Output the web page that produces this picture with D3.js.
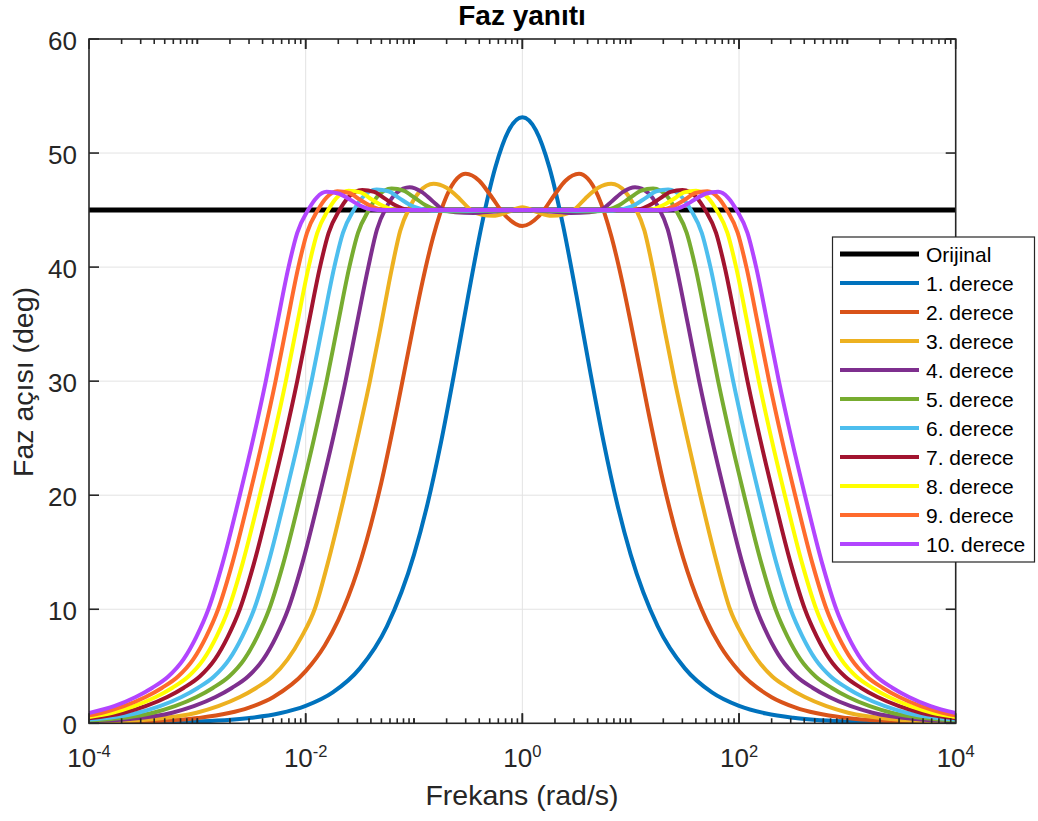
<!DOCTYPE html>
<html><head><meta charset="utf-8">
<script src="https://cdn.jsdelivr.net/npm/d3@7"></script>
<style>
body{margin:0;background:#fff}
svg{display:block}
text{font-family:"Liberation Sans",Arial,Helvetica,sans-serif;fill:#262626}
</style>
</head><body>
<svg id="chart" width="1038" height="821"></svg>
<script>
// ---------------- data (log10 of frequency in rad/s, phase in degrees) ----------------
const seriesNames = ["Orijinal","1. derece","2. derece","3. derece","4. derece","5. derece","6. derece","7. derece","8. derece","9. derece","10. derece"];

const logW0 = [-4, 4];
const phase0 = [45, 45];

const logW1 = [-4,-3.5,-3,-2.5,-2.25,-2,-1.75,-1.5,-1.25,-1,-0.875,-0.75,-0.625,-0.5,-0.375,-0.25,-0.125,0,0.125,0.25,0.375,0.5,0.625,0.75,0.875,1,1.25,1.5,1.75,2,2.25,2.5,3,3.5,4];
const phase1 = [0.015,0.048,0.153,0.483,0.859,1.527,2.71,4.815,8.5,14.79,19.25,24.68,30.9,37.47,43.68,48.72,52.0,53.13,52.0,48.72,43.68,37.47,30.9,24.68,19.25,14.79,8.5,4.815,2.71,1.527,0.859,0.483,0.153,0.048,0.015];

const logW2 = [-4,-3.5,-3,-2.523,-2.301,-2,-1.824,-1.699,-1.523,-1.301,-1.155,-1,-0.921,-0.824,-0.699,-0.602,-0.523,-0.398,-0.301,-0.155,0,0.155,0.301,0.398,0.523,0.602,0.699,0.824,0.921,1,1.155,1.301,1.523,1.699,1.824,2,2.301,2.523,3,3.5,4];
const phase2 = [0.046,0.145,0.458,1.374,2.29,4.57,6.82,9.04,13.34,21.14,27.68,35.14,38.75,42.62,46.24,47.77,48.18,47.57,46.39,44.49,43.6,44.49,46.39,47.57,48.18,47.77,46.24,42.62,38.75,35.14,27.68,21.14,13.34,9.04,6.82,4.57,2.29,1.374,0.458,0.145,0.046];

const logW3 = [-4,-3.407,-3.007,-2.807,-2.607,-2.457,-2.307,-2.167,-2.037,-1.917,-1.797,-1.642,-1.522,-1.407,-1.303,-1.202,-1.127,-1.037,-0.95,-0.82,-0.7,-0.58,-0.48,-0.38,-0.27,-0.13,0,0.13,0.27,0.38,0.48,0.58,0.7,0.82,0.95,1.037,1.127,1.202,1.303,1.407,1.522,1.642,1.797,1.917,2.037,2.167,2.307,2.457,2.607,2.807,3.007,3.407,4];
const phase3 = [0.09,0.37,0.93,1.5,2.3,3.1,4.1,5.6,7.6,10,14,20,25,30,35,40,43.2,45.3,46.6,47.3,46.95,46.0,45.05,44.6,44.5,44.85,45.25,44.85,44.5,44.6,45.05,46.0,46.95,47.3,46.6,45.3,43.2,40,35,30,25,20,14,10,7.6,5.6,4.1,3.1,2.3,1.5,0.93,0.37,0.09];

const logW4 = [-4,-3.632,-3.232,-3.032,-2.832,-2.682,-2.532,-2.392,-2.272,-2.162,-2.032,-1.872,-1.747,-1.632,-1.528,-1.422,-1.342,-1.252,-1.162,-1.04,-0.93,-0.83,-0.74,-0.62,-0.45,-0.25,0,0.25,0.45,0.62,0.74,0.83,0.93,1.04,1.162,1.252,1.342,1.422,1.528,1.632,1.747,1.872,2.032,2.162,2.272,2.392,2.532,2.682,2.832,3.032,3.232,3.632,4];
const phase4 = [0.16,0.37,0.93,1.5,2.3,3.1,4.1,5.6,7.6,10,14,20,25,30,35,40,43.3,45.3,46.5,47.0,46.6,45.8,45.1,44.8,44.75,44.88,45.0,44.88,44.75,44.8,45.1,45.8,46.6,47.0,46.5,45.3,43.3,40,35,30,25,20,14,10,7.6,5.6,4.1,3.1,2.3,1.5,0.93,0.37,0.16];

const logW5 = [-4,-3.407,-3.207,-3.007,-2.857,-2.707,-2.567,-2.447,-2.337,-2.207,-2.047,-1.922,-1.807,-1.703,-1.597,-1.517,-1.417,-1.337,-1.207,-1.097,-0.997,-0.897,-0.797,-0.65,-0.35,0,0.35,0.65,0.797,0.897,0.997,1.097,1.207,1.337,1.417,1.517,1.597,1.703,1.807,1.922,2.047,2.207,2.337,2.447,2.567,2.707,2.857,3.007,3.207,3.407,4];
const phase5 = [0.24,0.93,1.5,2.3,3.1,4.1,5.6,7.6,10,14,20,25,30,35,40,43,45,46.2,46.9,46.7,46.1,45.45,45.05,44.88,44.93,45,44.93,44.88,45.05,45.45,46.1,46.7,46.9,46.2,45,43,40,35,30,25,20,14,10,7.6,5.6,4.1,3.1,2.3,1.5,0.93,0.24];

const logW6 = [-4,-3.546,-3.346,-3.146,-2.996,-2.846,-2.706,-2.586,-2.476,-2.346,-2.186,-2.061,-1.946,-1.842,-1.736,-1.656,-1.556,-1.476,-1.346,-1.236,-1.136,-1.036,-0.936,-0.836,-0.5,0,0.5,0.836,0.936,1.036,1.136,1.236,1.346,1.476,1.556,1.656,1.736,1.842,1.946,2.061,2.186,2.346,2.476,2.586,2.706,2.846,2.996,3.146,3.346,3.546,4];
const phase6 = [0.33,0.93,1.5,2.3,3.1,4.1,5.6,7.6,10,14,20,25,30,35,40,43,45,46.1,46.8,46.65,46.05,45.45,45.1,44.97,44.95,45,44.95,44.97,45.1,45.45,46.05,46.65,46.8,46.1,45,43,40,35,30,25,20,14,10,7.6,5.6,4.1,3.1,2.3,1.5,0.93,0.33];

const logW7 = [-4,-3.678,-3.478,-3.278,-3.128,-2.978,-2.838,-2.718,-2.608,-2.478,-2.318,-2.193,-2.078,-1.974,-1.868,-1.788,-1.688,-1.608,-1.478,-1.368,-1.268,-1.168,-1.068,-0.968,0,0.968,1.068,1.168,1.268,1.368,1.478,1.608,1.688,1.788,1.868,1.974,2.078,2.193,2.318,2.478,2.608,2.718,2.838,2.978,3.128,3.278,3.478,3.678,4];
const phase7 = [0.44,0.93,1.5,2.3,3.1,4.1,5.6,7.6,10,14,20,25,30,35,40,43,45,46.1,46.75,46.6,46.0,45.4,45.05,45.0,45,45.0,45.05,45.4,46.0,46.6,46.75,46.1,45,43,40,35,30,25,20,14,10,7.6,5.6,4.1,3.1,2.3,1.5,0.93,0.44];

const logW8 = [-4,-3.783,-3.583,-3.383,-3.233,-3.083,-2.943,-2.823,-2.713,-2.583,-2.423,-2.298,-2.183,-2.079,-1.973,-1.893,-1.793,-1.713,-1.603,-1.493,-1.393,-1.293,-1.193,-1.093,0,1.093,1.193,1.293,1.393,1.493,1.603,1.713,1.793,1.893,1.973,2.079,2.183,2.298,2.423,2.583,2.713,2.823,2.943,3.083,3.233,3.383,3.583,3.783,4];
const phase8 = [0.56,0.93,1.5,2.3,3.1,4.1,5.6,7.6,10,14,20,25,30,35,40,43,45,46.1,46.7,46.55,45.95,45.4,45.05,45.0,45,45.0,45.05,45.4,45.95,46.55,46.7,46.1,45,43,40,35,30,25,20,14,10,7.6,5.6,4.1,3.1,2.3,1.5,0.93,0.56];

const logW9 = [-4,-3.878,-3.678,-3.478,-3.328,-3.178,-3.038,-2.918,-2.808,-2.678,-2.518,-2.393,-2.278,-2.174,-2.068,-1.988,-1.888,-1.808,-1.708,-1.598,-1.498,-1.398,-1.298,-1.198,0,1.198,1.298,1.398,1.498,1.598,1.708,1.808,1.888,1.988,2.068,2.174,2.278,2.393,2.518,2.678,2.808,2.918,3.038,3.178,3.328,3.478,3.678,3.878,4];
const phase9 = [0.70,0.93,1.5,2.3,3.1,4.1,5.6,7.6,10,14,20,25,30,35,40,43,45,46.1,46.65,46.5,45.9,45.35,45.05,45.0,45,45.0,45.05,45.35,45.9,46.5,46.65,46.1,45,43,40,35,30,25,20,14,10,7.6,5.6,4.1,3.1,2.3,1.5,0.93,0.70];

const logW10 = [-4,-3.768,-3.568,-3.418,-3.268,-3.128,-3.008,-2.898,-2.768,-2.608,-2.483,-2.368,-2.264,-2.158,-2.078,-1.978,-1.898,-1.808,-1.698,-1.588,-1.488,-1.388,-1.288,0,1.288,1.388,1.488,1.588,1.698,1.808,1.898,1.978,2.078,2.158,2.264,2.368,2.483,2.608,2.768,2.898,3.008,3.128,3.268,3.418,3.568,3.768,4];
const phase10 = [0.9,1.5,2.3,3.1,4.1,5.6,7.6,10,14,20,25,30,35,40,43,45,46.1,46.6,46.45,45.9,45.35,45.05,45.0,45,45.0,45.05,45.35,45.9,46.45,46.6,46.1,45,43,40,35,30,25,20,14,10,7.6,5.6,4.1,3.1,2.3,1.5,0.9];

const yTicks = [0,10,20,30,40,50,60];
const xTickExps = [-4,-2,0,2,4];
const titleText = "Faz yanıtı";
const xLabel = "Frekans (rad/s)";
const yLabel = "Faz açısı (deg)";

// ---------------- styles ----------------
const colors = ["#000000","#0072BD","#D95319","#EDB120","#7E2F8E","#77AC30","#4DBEEE","#A2142F","#FFFF00","#FF6B2D","#B245FF"];

const allLogW = [logW0,logW1,logW2,logW3,logW4,logW5,logW6,logW7,logW8,logW9,logW10];
const allPhase = [phase0,phase1,phase2,phase3,phase4,phase5,phase6,phase7,phase8,phase9,phase10];

// ---------------- chart ----------------
const svg = d3.select("#chart");
const L = 89, R = 955.7, T = 39, B = 723.3;
const x = d3.scaleLog().domain([1e-4, 1e4]).range([L, R]);
const y = d3.scaleLinear().domain([0, 60]).range([B, T]);
const axisColor = "#262626";

svg.append("rect").attr("width",1038).attr("height",821).attr("fill","#fff");

// grid
const grid = svg.append("g").attr("stroke","#e3e3e3").attr("stroke-width",1);
yTicks.filter(v=>v>0&&v<60).forEach(v=>{
  grid.append("line").attr("x1",L).attr("x2",R).attr("y1",y(v)).attr("y2",y(v));
});
xTickExps.filter(e=>e>-4&&e<4).forEach(e=>{
  grid.append("line").attr("x1",x(Math.pow(10,e))).attr("x2",x(Math.pow(10,e))).attr("y1",T).attr("y2",B);
});

// clip
svg.append("clipPath").attr("id","clip").append("rect").attr("x",L).attr("y",T).attr("width",R-L).attr("height",B-T);

const line = d3.line().x(d=>x(d[0])).y(d=>y(d[1])).curve(d3.curveMonotoneX);
const plot = svg.append("g").attr("clip-path","url(#clip)");
allLogW.forEach((lw,i)=>{
  const pts = lw.map((e,j)=>[Math.pow(10,e), allPhase[i][j]]);
  plot.append("path").datum(pts).attr("d",line).attr("fill","none")
    .attr("stroke",colors[i]).attr("stroke-width", i===0?5:4)
    .attr("stroke-linejoin","round").attr("stroke-linecap","butt");
});

// axes box
svg.append("rect").attr("x",L).attr("y",T).attr("width",R-L).attr("height",B-T)
  .attr("fill","none").attr("stroke",axisColor).attr("stroke-width",1.6);

// x ticks (major + minor), inward on bottom and top
const ticks = svg.append("g").attr("stroke",axisColor).attr("stroke-width",1.6);
for (let e=-4; e<4; e++) {
  for (let k=1; k<=10; k++) {
    const v = k*Math.pow(10,e);
    const isMajor = (k===1 && xTickExps.includes(e)) || (k===10 && xTickExps.includes(e+1));
    const len = isMajor ? 10 : 5;
    const xx = x(v);
    ticks.append("line").attr("x1",xx).attr("x2",xx).attr("y1",B).attr("y2",B-len);
    ticks.append("line").attr("x1",xx).attr("x2",xx).attr("y1",T).attr("y2",T+len);
  }
}
yTicks.forEach(v=>{
  ticks.append("line").attr("x1",L).attr("x2",L+10).attr("y1",y(v)).attr("y2",y(v));
  ticks.append("line").attr("x1",R).attr("x2",R-10).attr("y1",y(v)).attr("y2",y(v));
});

// y tick labels
yTicks.forEach(v=>{
  svg.append("text").attr("x",77).attr("y",y(v)+10.5).attr("text-anchor","end")
    .attr("font-size",26).text(v);
});
// x tick labels
xTickExps.forEach(e=>{
  const t = svg.append("text").attr("x",x(Math.pow(10,e))).attr("y",767).attr("text-anchor","middle").attr("font-size",26);
  t.append("tspan").text("10");
  t.append("tspan").attr("dy",-10).attr("font-size",16.5).text(String(e));
});

// axis labels
svg.append("text").attr("x",522).attr("y",805).attr("text-anchor","middle").attr("font-size",28.5).text(xLabel);
svg.append("text").attr("transform","translate(33,382) rotate(-90)").attr("text-anchor","middle").attr("font-size",28.5).text(yLabel);
// title
svg.append("text").attr("x",522).attr("y",25).attr("text-anchor","middle").attr("font-size",28)
  .attr("font-weight","bold").style("fill","#000").text(titleText);

// legend
const lg = svg.append("g");
lg.append("rect").attr("x",832.5).attr("y",237).attr("width",202).attr("height",325)
  .attr("fill","#fff").attr("stroke",axisColor).attr("stroke-width",1.2);
seriesNames.forEach((n,i)=>{
  const cy = 254 + i*29;
  lg.append("line").attr("x1",840).attr("x2",919).attr("y1",cy).attr("y2",cy)
    .attr("stroke",colors[i]).attr("stroke-width", i===0?5:4);
  lg.append("text").attr("x",926).attr("y",cy+7.5).attr("font-size",21).style("fill","#000").text(n);
});
</script>
</body></html>
